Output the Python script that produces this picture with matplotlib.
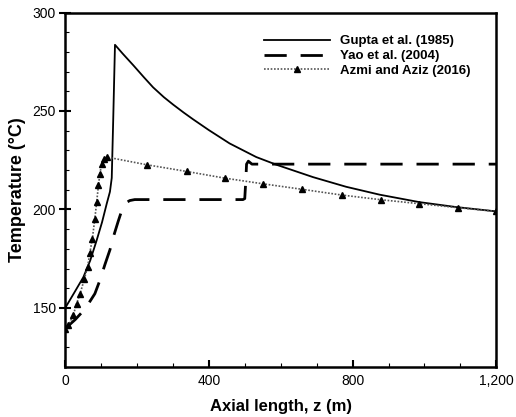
import numpy as np
import matplotlib.pyplot as plt
from matplotlib.ticker import MultipleLocator, FuncFormatter

plt.rcParams["font.family"] = ["Liberation Sans", "DejaVu Sans"]

# Gupta et al. (1985)
gupta_z = [0, 25, 51, 70, 88, 103, 116, 125, 130, 134, 139, 160, 190, 220, 245, 275, 301, 330, 356, 400, 458, 532, 588,
           690, 782, 875, 986, 1088, 1200]
gupta_t = [149.8, 157.5, 165.6, 174, 184.3, 193.5, 202.9, 209, 216, 245, 283.6, 279.2, 273.2, 267, 262, 257, 253.2,
           249.2, 245.8, 240.3, 233.5, 226.6, 222.7, 216.4, 211.5, 207.5, 203.7, 201.2, 199]

# Yao et al. (2004)
yao_z = [0, 28, 56, 83, 97, 111, 125, 137, 148, 157, 165, 171, 180, 194, 300, 495, 500, 503, 505, 510, 520, 1200]
yao_t = [139.4, 144, 149.5, 157.2, 164, 172, 179.5, 187.5, 194, 199, 202, 203.5, 204.5, 205, 205, 205,
         205.5, 215, 223, 224.5, 223, 223]

# Azmi and Aziz (2016)
azmi_z = [0, 9, 23, 32, 42, 54, 63, 69, 76, 83, 88, 93, 97, 102, 109, 116,
          227, 338, 444, 551, 660, 770, 880, 986, 1093, 1199]
azmi_t = [139.5, 141.1, 146.2, 152.1, 157.2, 164.8, 171, 177.8, 185.1, 195.3, 203.7, 212.2, 218.1, 223.2, 225.7, 226.6,
          222.7, 219.3, 215.9, 213, 210.2, 207.3, 204.9, 202.9, 200.9, 199]

fig, ax = plt.subplots(figsize=(5.16, 4.17), dpi=100)
fig.subplots_adjust(left=0.126, right=0.962, top=0.970, bottom=0.120)

ax.plot(gupta_z, gupta_t, color="black", lw=1.3, label="Gupta et al. (1985)")
ax.plot(yao_z, yao_t, color="black", lw=2.0, dashes=(8, 5), label="Yao et al. (2004)")
ax.plot(azmi_z, azmi_t, color="#555555", lw=1.2, ls=(0, (1, 1)), marker="^",
        markersize=4.5, markerfacecolor="black", markeredgecolor="black",
        label="Azmi and Aziz (2016)")

ax.set_xlim(0, 1200)
ax.set_ylim(120, 300)
ax.xaxis.set_major_locator(MultipleLocator(400))
ax.xaxis.set_minor_locator(MultipleLocator(100))
ax.yaxis.set_major_locator(MultipleLocator(50))
ax.yaxis.set_minor_locator(MultipleLocator(10))
ax.xaxis.set_major_formatter(FuncFormatter(lambda v, p: f"{int(v):,}"))
ax.yaxis.set_major_formatter(FuncFormatter(lambda v, p: "" if v < 150 else f"{int(v)}"))

ax.tick_params(axis="y", which="major", direction="inout", length=9, width=1.5, labelsize=10, pad=2)
ax.tick_params(axis="x", which="major", direction="in", length=5, width=1.5, labelsize=10, pad=5)
ax.tick_params(which="minor", direction="in", length=3, width=0.8)
for s in ax.spines.values():
    s.set_linewidth(1.8)

ax.set_xlabel("Axial length, z (m)", fontsize=12, fontweight="bold", labelpad=8)
ax.set_ylabel("Temperature (°C)", fontsize=13, fontweight="bold", labelpad=5)

ax.legend(loc="upper right", frameon=False, prop={"weight": "bold", "size": 9.5},
          handlelength=5.0, handletextpad=0.8, labelspacing=0.2, markerscale=0.9,
          bbox_to_anchor=(0.968, 0.97))

fig.savefig("out.png", dpi=100)
